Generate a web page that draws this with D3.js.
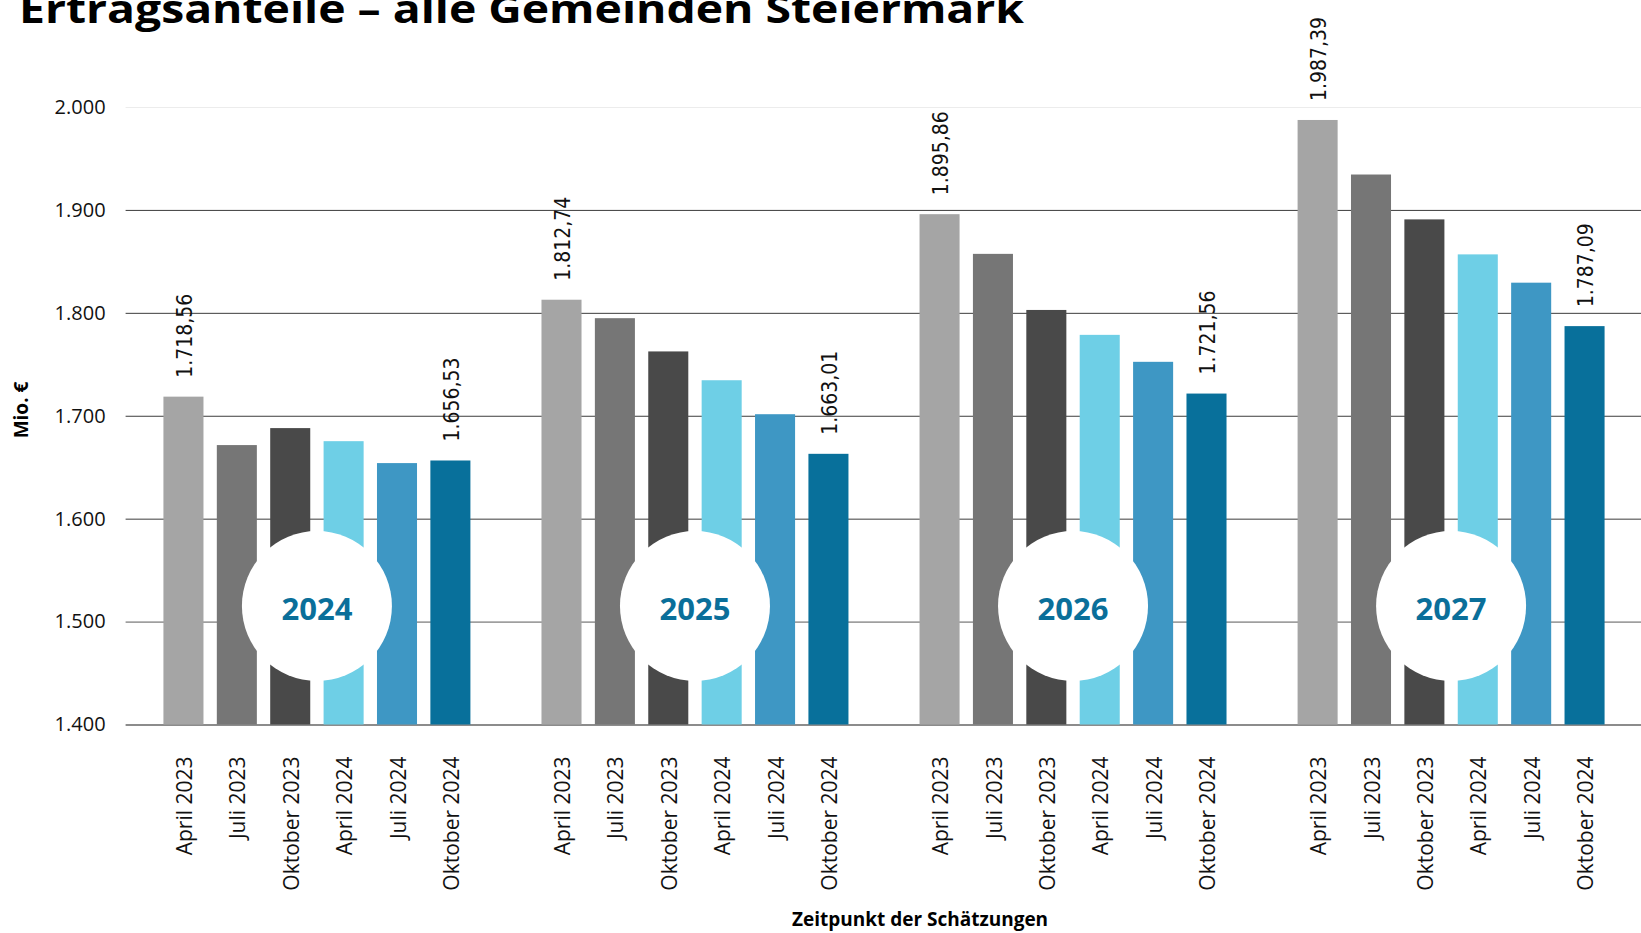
<!DOCTYPE html>
<html>
<head>
<meta charset="utf-8">
<script src="https://cdn.jsdelivr.net/npm/d3@7"></script>
<style>
  html, body { margin: 0; padding: 0; background: #fff; }
  svg { display: block; }
</style>
</head>
<body>
<svg id="chart"></svg>
<script>
// Daten
const years = ["2024", "2025", "2026", "2027"];
const estimates = ["April 2023", "Juli 2023", "Oktober 2023", "April 2024", "Juli 2024", "Oktober 2024"];
const values2024 = [1718.56, 1671.5, 1688.0, 1675.3, 1654.0, 1656.53];
const values2025 = [1812.74, 1794.8, 1762.5, 1734.5, 1701.5, 1663.01];
const values2026 = [1895.86, 1857.3, 1802.8, 1778.6, 1752.4, 1721.56];
const values2027 = [1987.39, 1934.4, 1890.8, 1856.8, 1829.3, 1787.09];
const yTicks = [1400, 1500, 1600, 1700, 1800, 1900, 2000];
const barColors = ["#a5a5a5", "#767676", "#494949", "#6ecfe6", "#3e97c4", "#08709b"];

const seriesByYear = { "2024": values2024, "2025": values2025, "2026": values2026, "2027": values2027 };

// SVG Konfiguration
const width = 1641;
const height = 933;
const svg = d3.select("#chart").attr("width", width).attr("height", height);

const plotLeft = 125.6;
const plotRight = width;
const plotTop = 107;
const plotBottom = 724.5;

const de = d3.formatLocale({ decimal: ",", thousands: ".", grouping: [3], currency: ["", " €"] });
const fmtTick = de.format(",.0f");
const fmtValue = de.format(",.2f");

// Skalen
const y = d3.scaleLinear().domain([1400, 2000]).range([plotBottom, plotTop]);

const xGroup = d3.scaleBand()
    .domain(years)
    .range([126, 1642])
    .paddingInner(0.188)
    .paddingOuter(0.099);

const xBar = d3.scaleBand()
    .domain(estimates)
    .range([0, xGroup.bandwidth()])
    .paddingInner(0.25)
    .paddingOuter(0);

// Titel (oben angeschnitten wie im Original)
svg.append("text")
    .attr("x", 19)
    .attr("y", 23)
    .attr("font-family", "Open Sans, sans-serif")
    .attr("font-weight", "bold")
    .attr("font-size", "40px")
    .attr("textLength", 1005)
    .attr("lengthAdjust", "spacingAndGlyphs")
    .attr("fill", "#000")
    .text("Ertragsanteile – alle Gemeinden Steiermark");

// Gitternetz + Y-Achse
const yAxis = svg.append("g")
    .attr("transform", `translate(${plotLeft},0)`)
    .call(d3.axisLeft(y)
        .tickValues(yTicks)
        .tickSize(-(plotRight - plotLeft))
        .tickPadding(20)
        .tickFormat(fmtTick));

yAxis.select(".domain").remove();
yAxis.selectAll(".tick line")
    .attr("stroke", d => d === 2000 ? "#ececec" : d === 1400 ? "#8c8c8c" : d === 1500 ? "#5a5a5a" : "#3c3c3c")
    .attr("stroke-width", d => d === 1400 ? 2 : 1);
yAxis.selectAll(".tick text")
    .attr("font-family", "Open Sans, sans-serif")
    .attr("font-size", "20px")
    .attr("fill", "#111");

// Achsentitel Y
svg.append("text")
    .attr("transform", `translate(28,410) rotate(-90)`)
    .attr("text-anchor", "middle")
    .attr("font-family", "Open Sans, sans-serif")
    .attr("font-weight", "bold")
    .attr("font-size", "19px")
    .attr("fill", "#000")
    .text("Mio. €");

// Balkengruppen
const groups = svg.append("g")
    .selectAll("g.group")
    .data(years)
    .join("g")
    .attr("class", "group")
    .attr("transform", d => `translate(${xGroup(d)},0)`);

groups.selectAll("rect")
    .data(yr => seriesByYear[yr].map((v, i) => ({ est: estimates[i], value: v, i })))
    .join("rect")
    .attr("x", d => xBar(d.est))
    .attr("y", d => y(d.value))
    .attr("width", xBar.bandwidth())
    .attr("height", d => y(1400) - y(d.value))
    .attr("fill", d => barColors[d.i]);

// Datenbeschriftung (erster und letzter Balken)
groups.selectAll("text.value")
    .data(yr => seriesByYear[yr]
        .map((v, i) => ({ est: estimates[i], value: v, i }))
        .filter(d => d.i === 0 || d.i === estimates.length - 1))
    .join("text")
    .attr("class", "value")
    .attr("transform", d => `translate(${xBar(d.est) + xBar.bandwidth() / 2 + 1},${y(d.value) - 19}) rotate(-90) scale(0.92,1)`)
    .attr("dy", "0.36em")
    .attr("text-anchor", "start")
    .attr("font-family", "DejaVu Sans, sans-serif")
    .attr("font-size", "20.5px")
    .attr("fill", "#111")
    .text(d => fmtValue(d.value));

// X-Achse je Gruppe
groups.each(function() {
    const g = d3.select(this).append("g")
        .attr("transform", `translate(0,${plotBottom})`)
        .call(d3.axisBottom(xBar).tickSize(0).tickPadding(0));
    g.select(".domain").remove();
    g.selectAll(".tick text")
        .attr("transform", "translate(1,32) rotate(-90)")
        .attr("x", 0)
        .attr("y", 0)
        .attr("dy", "0.36em")
        .attr("text-anchor", "end")
        .attr("font-family", "Open Sans, sans-serif")
        .attr("font-size", "21px")
        .attr("fill", "#111");
});

// Jahreskreise
groups.append("circle")
    .attr("cx", xGroup.bandwidth() / 2)
    .attr("cy", 606)
    .attr("r", 75)
    .attr("fill", "#fff");

groups.append("text")
    .attr("x", xGroup.bandwidth() / 2)
    .attr("y", 620)
    .attr("text-anchor", "middle")
    .attr("font-family", "Open Sans, sans-serif")
    .attr("font-weight", "bold")
    .attr("font-size", "31px")
    .attr("fill", "#0a6f9a")
    .text(d => d);

// Achsentitel X
svg.append("text")
    .attr("x", 920)
    .attr("y", 926)
    .attr("text-anchor", "middle")
    .attr("font-family", "Open Sans, sans-serif")
    .attr("font-weight", "bold")
    .attr("font-size", "19px")
    .attr("fill", "#000")
    .text("Zeitpunkt der Schätzungen");
</script>
</body>
</html>
